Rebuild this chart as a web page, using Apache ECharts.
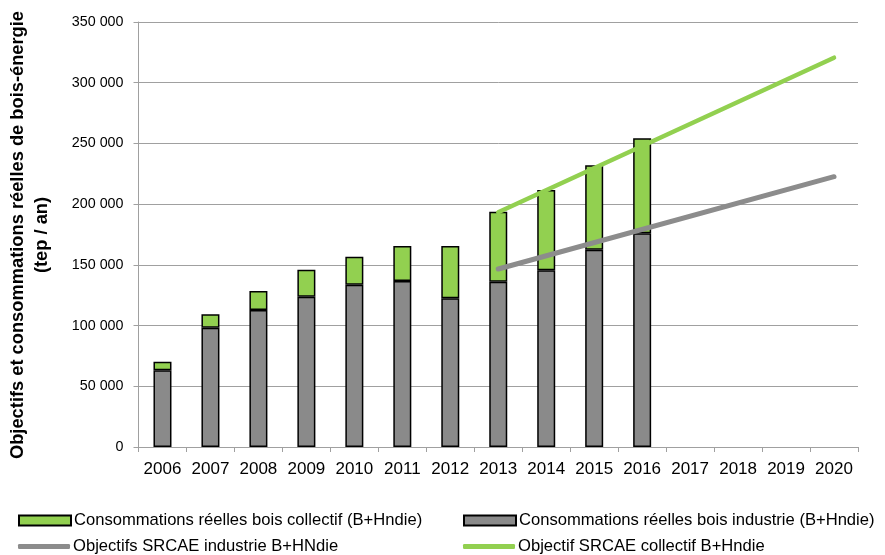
<!DOCTYPE html>
<html>
<head>
<meta charset="utf-8">
<script src="https://cdn.jsdelivr.net/npm/echarts@6/dist/echarts.min.js"></script>
<style>html,body{margin:0;padding:0;background:#fff}#c{width:885px;height:555px}</style>
</head>
<body>
<div id="c"></div>
<script>
const years = ['2006','2007','2008','2009','2010','2011','2012','2013','2014','2015','2016','2017','2018','2019','2020'];
const industrie = [63200, 98300, 112800, 123800, 133700, 136700, 122500, 136100, 145500, 162500, 176000, null, null, null, null];
const collectif = [7000, 11000, 15700, 22200, 23000, 28800, 43000, 57700, 66100, 69500, 78200, null, null, null, null];
const objIndustrie = [null, null, null, null, null, null, null, 146600, null, null, null, null, null, null, 222600];
const objCollectif = [null, null, null, null, null, null, null, 193300, null, null, null, null, null, null, 320600];
const yTicks = {min: 0, max: 350000, interval: 50000};
const names = {
  collectif: 'Consommations réelles bois collectif (B+Hndie)',
  industrie: 'Consommations réelles bois industrie (B+Hndie)',
  objInd: 'Objectifs SRCAE industrie B+HNdie',
  objCol: 'Objectif SRCAE collectif B+Hndie'
};
const yTitle = 'Objectifs et consommations réelles de bois-énergie\n(tep / an)';

const FONT = '"Liberation Sans", Arial, sans-serif';
const GREEN = '#92D050', GRAY = '#8A8A8A', LINEGRAY = '#8C8C8C', GRID = '#A0A0A0';
const fmt = v => String(v).replace(/\B(?=(\d{3})+(?!\d))/g, ' ');

const chart = echarts.init(document.getElementById('c'), null, {renderer: 'canvas'});
const legendText = {fontFamily: FONT, fontSize: 16.6, color: '#000', padding: [0, 0, 0, -2]};
chart.setOption({
  animation: false,
  textStyle: {fontFamily: FONT},
  grid: {left: 138.5, right: 27, top: 22, bottom: 108, containLabel: false},
  legend: [
    {data: [names.collectif], left: 18, top: 512, itemWidth: 52, itemHeight: 10, itemGap: 3, padding: 0, textStyle: legendText, icon: 'rect'},
    {data: [names.industrie], left: 463, top: 512, itemWidth: 52, itemHeight: 10, padding: 0, textStyle: legendText, icon: 'rect'},
    {data: [{name: names.objInd, icon: 'roundRect', itemStyle: {color: LINEGRAY}}], left: 18, top: 538, itemWidth: 52, itemHeight: 5, padding: 0, textStyle: legendText},
    {data: [{name: names.objCol, icon: 'roundRect', itemStyle: {color: GREEN}}], left: 463, top: 538, itemWidth: 52, itemHeight: 5, padding: 0, textStyle: legendText}
  ],
  xAxis: {
    type: 'category', data: years, boundaryGap: true,
    axisLine: {show: true, lineStyle: {color: GRID, width: 1}},
    axisTick: {show: true, length: 5, interval: 0, lineStyle: {color: GRID}},
    axisLabel: {fontFamily: FONT, fontSize: 17, color: '#000', margin: 14, interval: 0, hideOverlap: false}
  },
  yAxis: {
    type: 'value', min: yTicks.min, max: yTicks.max, interval: yTicks.interval,
    axisLine: {show: true, lineStyle: {color: GRID, width: 1}},
    axisTick: {show: true, length: 5, lineStyle: {color: GRID}},
    splitLine: {show: true, lineStyle: {color: GRID, width: 1}},
    axisLabel: {fontFamily: FONT, fontSize: 14.3, color: '#000', margin: 15, formatter: fmt}
  },
  graphic: [{
    type: 'text', x: 30, y: 235, rotation: Math.PI / 2,
    style: {text: yTitle, font: 'bold 18.3px ' + FONT, fill: '#000', align: 'center', verticalAlign: 'middle', lineHeight: 24}
  }],
  series: [
    {name: names.industrie, type: 'bar', stack: 'a', data: industrie, barWidth: 18,
      itemStyle: {color: GRAY, borderColor: '#000', borderWidth: 1.5}},
    {name: names.collectif, type: 'bar', stack: 'a', data: collectif, barWidth: 18,
      itemStyle: {color: GREEN, borderColor: '#000', borderWidth: 1.5}},
    {name: names.objInd, type: 'line', data: objIndustrie, connectNulls: true, symbol: 'none', z: 5,
      lineStyle: {color: LINEGRAY, width: 5, cap: 'round'}, itemStyle: {color: LINEGRAY}},
    {name: names.objCol, type: 'line', data: objCollectif, connectNulls: true, symbol: 'none', z: 5,
      lineStyle: {color: GREEN, width: 4.5, cap: 'round'}, itemStyle: {color: GREEN}}
  ]
});
</script>
</body>
</html>
